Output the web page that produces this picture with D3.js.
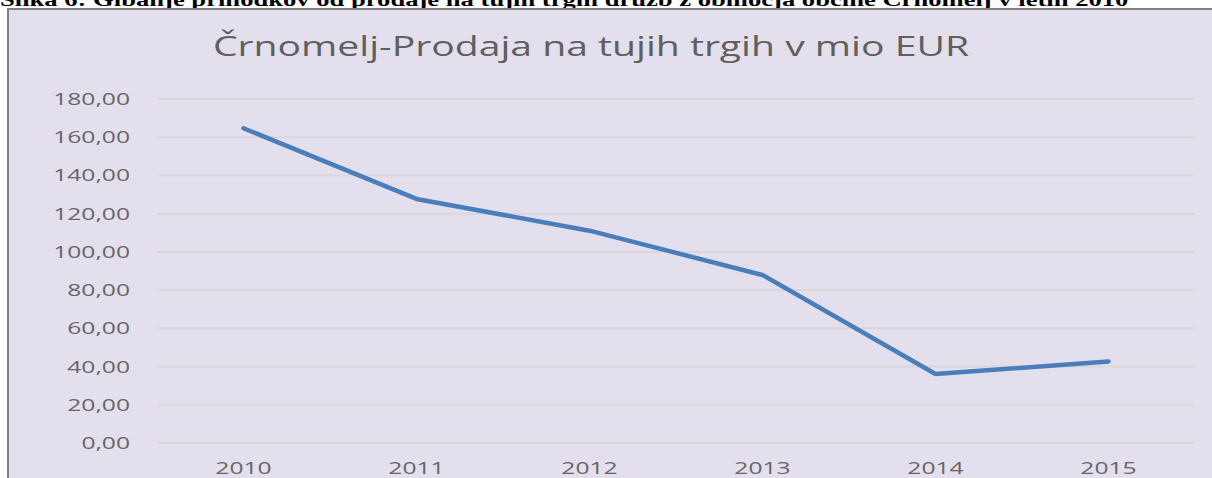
<!DOCTYPE html>
<html>
<head>
<meta charset="utf-8">
<script src="https://cdn.jsdelivr.net/npm/d3@7"></script>
<style>
  body { margin: 0; background: #fff; }
  svg { display: block; }
</style>
</head>
<body>
<svg id="chart" width="1212" height="478"></svg>
<script>
// data
var years = ['2010', '2011', '2012', '2013', '2014', '2015'];
var sales = [164.7, 127.7, 111.1, 87.9, 36.1, 42.7];
var yTicks = [0, 20, 40, 60, 80, 100, 120, 140, 160, 180];

var caption = 'Slika 6: Gibanje prihodkov od prodaje na tujih trgih družb z območja občine Črnomelj v letih 2010';
var title = 'Črnomelj-Prodaja na tujih trgih v mio EUR';

var svg = d3.select('#chart'),
    width = +svg.attr('width'),
    height = +svg.attr('height'),
    margin = {top: 99, right: 17, bottom: 35, left: 157},
    stretch = 1.45; // the picture is squeezed wide, text too

var x = d3.scaleBand()
    .domain(years)
    .range([margin.left, width - margin.right]);

var y = d3.scaleLinear()
    .domain([0, 180])
    .range([height - margin.bottom, margin.top]);

// caption of the document, cut off at the top
svg.append('g')
    .attr('transform', 'translate(0,6) scale(1.4,1)')
    .append('text')
    .attr('font-family', 'Liberation Serif')
    .attr('font-weight', 'bold')
    .attr('font-size', 19)
    .attr('fill', '#000')
    .text(caption);

// chart frame
svg.append('rect')
    .attr('x', 8)
    .attr('y', 9)
    .attr('width', width + 10)
    .attr('height', height)
    .attr('fill', '#e4dfec')
    .attr('stroke', '#808080')
    .attr('stroke-width', 2);

svg.append('g')
    .attr('transform', 'translate(' + (width / 2 - 15) + ',56) scale(' + stretch + ',1)')
    .append('text')
    .attr('text-anchor', 'middle')
    .attr('font-family', 'Open Sans')
    .attr('font-size', 27)
    .attr('fill', '#5f5f5f')
    .text(title);

// gridlines
svg.append('g')
    .selectAll('line')
    .data(yTicks)
    .enter().append('line')
    .attr('x1', margin.left)
    .attr('x2', width - margin.right)
    .attr('y1', function (d) { return y(d); })
    .attr('y2', function (d) { return y(d); })
    .attr('stroke', '#d9d6dc')
    .attr('stroke-width', 2);

// y labels
svg.append('g')
    .selectAll('g')
    .data(yTicks)
    .enter().append('g')
    .attr('transform', function (d) {
        return 'translate(130,' + (y(d) + 6) + ') scale(' + stretch + ',1)';
    })
    .append('text')
    .attr('text-anchor', 'end')
    .attr('font-family', 'Open Sans')
    .attr('font-size', 17)
    .attr('fill', '#666')
    .text(function (d) { return d3.format('.2f')(d).replace('.', ','); });

// x labels
svg.append('g')
    .selectAll('g')
    .data(years)
    .enter().append('g')
    .attr('transform', function (d) {
        return 'translate(' + (x(d) + x.bandwidth() / 2) + ',' + (height - 4) + ') scale(' + stretch + ',1)';
    })
    .append('text')
    .attr('text-anchor', 'middle')
    .attr('font-family', 'Open Sans')
    .attr('font-size', 17)
    .attr('fill', '#666')
    .text(function (d) { return d; });

var line = d3.line()
    .x(function (d, i) { return x(years[i]) + x.bandwidth() / 2; })
    .y(function (d) { return y(d); });

svg.append('path')
    .datum(sales)
    .attr('d', line)
    .attr('fill', 'none')
    .attr('stroke', '#4a7ebb')
    .attr('stroke-width', 4.5)
    .attr('stroke-linecap', 'round')
    .attr('stroke-linejoin', 'round');
</script>
</body>
</html>
